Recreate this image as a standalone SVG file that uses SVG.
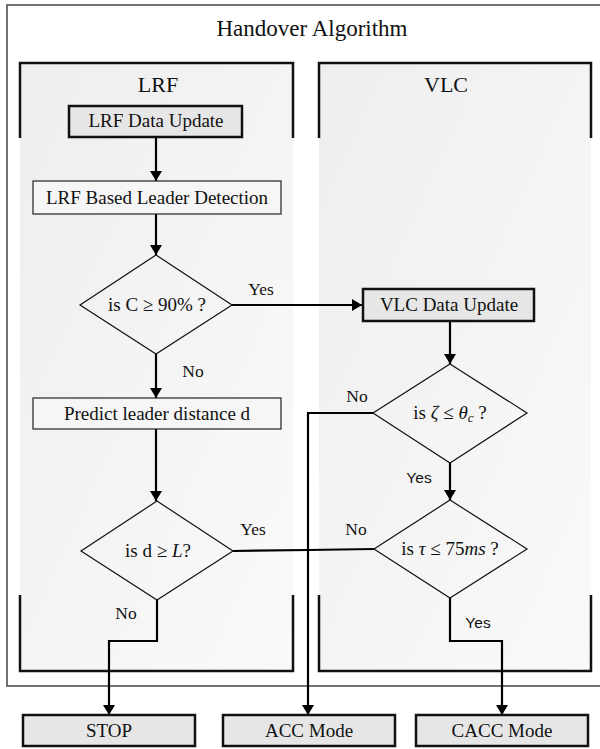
<svg xmlns="http://www.w3.org/2000/svg" width="600" height="749" viewBox="0 0 600 749">
<defs>
<linearGradient id="lane" x1="0" y1="0" x2="1" y2="1">
<stop offset="0" stop-color="#eeeeee"/>
<stop offset="1" stop-color="#fafafa"/>
</linearGradient>
<marker id="ah" viewBox="0 0 10 12" refX="10" refY="6" markerWidth="10" markerHeight="12" markerUnits="userSpaceOnUse" orient="auto">
<path d="M0,0 L10,6 L0,12 Z" fill="#000"/>
</marker>
<style>
text{font-family:"Liberation Serif","Times New Roman",serif;fill:#111;text-anchor:middle}
.title{font-size:23px}
.lane{font-size:22px}
.lbl{font-size:19px}
.edge{font-size:17.5px}
.sans{font-family:"Liberation Sans",Arial,sans-serif;font-size:15.5px}
.bracket{fill:none;stroke:#111;stroke-width:2.5}
.box{fill:#e6e6e6;stroke:#111;stroke-width:2.5}
.box2{fill:#f6f6f6;stroke:#222;stroke-width:1.2}
.dia{fill:none;stroke:#111;stroke-width:1.2}
.con{fill:none;stroke:#000;stroke-width:2.2}
.arr{marker-end:url(#ah)}
</style>
</defs>
<rect x="0" y="0" width="600" height="749" fill="#fff"/>
<g id="frame">
<rect x="7" y="5" width="600" height="681" fill="none" stroke="#444" stroke-width="1.5"/>
<text class="title" x="312" y="36">Handover Algorithm</text>
</g>
<g id="lane-lrf">
<rect x="20" y="63" width="273" height="608" fill="url(#lane)"/>
<path class="bracket" d="M20,138 V63 H293 V138"/>
<path class="bracket" d="M20,595 V671 H293 V595"/>
<text class="lane" x="158" y="92">LRF</text>
</g>
<g id="lane-vlc">
<rect x="319" y="63" width="272" height="608" fill="url(#lane)"/>
<path class="bracket" d="M319,138 V63 H591 V138"/>
<path class="bracket" d="M319,595 V671 H591 V595"/>
<text class="lane" x="446" y="92">VLC</text>
</g>
<g id="connectors">
<path class="con arr" d="M156,137 V181"/>
<path class="con arr" d="M156,214 V255"/>
<path class="con arr" d="M232,305 H362"/>
<path class="con arr" d="M156,354 V398"/>
<path class="con arr" d="M156,429 V501"/>
<path class="con" d="M233,551 L308,550 L374,549"/>
<path class="con arr" d="M157,600 V641 H109 V715"/>
<path class="con arr" d="M450,321 V364"/>
<path class="con arr" d="M373,413 H308 V715"/>
<path class="con arr" d="M450,463 V500"/>
<path class="con arr" d="M450,598 V641 H502 V715"/>
<text class="edge" x="261" y="295">Yes</text>
<text class="edge" x="193" y="377">No</text>
<text class="edge" x="253" y="535">Yes</text>
<text class="edge" x="126" y="619">No</text>
<text class="edge" x="357" y="402">No</text>
<text class="edge" x="356" y="535">No</text>
<text class="sans" x="419" y="483">Yes</text>
<text class="sans" x="478" y="628">Yes</text>
</g>
<g id="n-lrf-update">
<rect class="box" x="69" y="106" width="173" height="31"/>
<text class="lbl" x="156" y="127">LRF Data Update</text>
</g>
<g id="n-lrf-detect">
<rect class="box2" x="33" y="181" width="248" height="33"/>
<text class="lbl" x="157" y="204">LRF Based Leader Detection</text>
</g>
<g id="n-dec-c">
<polygon class="dia" points="156,255 232,305 156,354 80,305"/>
<text class="lbl" x="157" y="311">is C ≥ 90% ?</text>
</g>
<g id="n-predict">
<rect class="box2" x="33" y="398" width="248" height="31"/>
<text class="lbl" x="157" y="420">Predict leader distance d</text>
</g>
<g id="n-dec-d">
<polygon class="dia" points="157,501 233,551 157,600 81,551"/>
<text class="lbl" x="158" y="557">is d ≥ <tspan font-style="italic">L</tspan>?</text>
</g>
<g id="n-vlc-update">
<rect class="box" x="363" y="289" width="171" height="32"/>
<text class="lbl" x="449" y="311">VLC Data Update</text>
</g>
<g id="n-dec-zeta">
<polygon class="dia" points="450,364 527,413 450,463 373,413"/>
<text class="lbl" x="450" y="419">is <tspan font-style="italic">ζ</tspan> ≤ <tspan font-style="italic">θ</tspan><tspan font-style="italic" font-size="13" dy="3">c</tspan><tspan dy="-3"> ?</tspan></text>
</g>
<g id="n-dec-tau">
<polygon class="dia" points="450,500 527,549 450,598 374,549"/>
<text class="lbl" x="450" y="555">is <tspan font-style="italic">τ</tspan> ≤ 75<tspan font-style="italic">ms</tspan> ?</text>
</g>
<g id="n-stop">
<rect class="box" x="23" y="715" width="172" height="31"/>
<text class="lbl" x="109" y="737">STOP</text>
</g>
<g id="n-acc">
<rect class="box" x="223" y="715" width="172" height="31"/>
<text class="lbl" x="309" y="737">ACC Mode</text>
</g>
<g id="n-cacc">
<rect class="box" x="416" y="715" width="172" height="31"/>
<text class="lbl" x="502" y="737">CACC Mode</text>
</g>
</svg>
